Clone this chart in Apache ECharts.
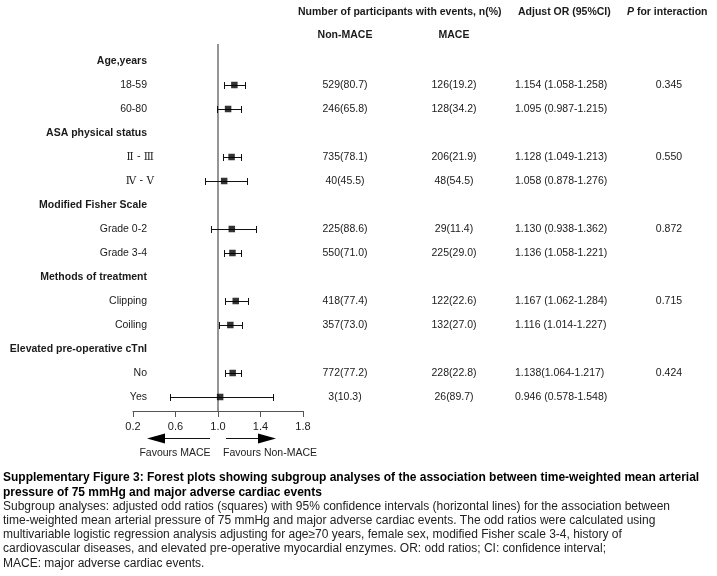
<!DOCTYPE html>
<html><head><meta charset="utf-8">
<script src="https://cdn.jsdelivr.net/npm/echarts@6.0.0/dist/echarts.min.js"></script>
<style>html,body{margin:0;padding:0;background:#fff}#c{width:717px;height:576px}</style>
</head><body><div id="c"></div>
<script>
// ---- data ----
const rowLabels = ['Age,years','18-59','60-80','ASA physical status','Ⅱ - Ⅲ','Ⅳ - Ⅴ','Modified Fisher Scale','Grade 0-2','Grade 3-4','Methods of treatment','Clipping','Coiling','Elevated pre-operative cTnI','No','Yes'];
const isHeader = [1,0,0,1,0,0,1,0,0,1,0,0,1,0,0];
// plotted positions (the "Yes" mark is drawn at ~1.02 in the source figure)
const orValues = [null,1.154,1.095,null,1.128,1.058,null,1.130,1.136,null,1.167,1.116,null,1.138,1.02];
const ciLow    = [null,1.058,0.987,null,1.049,0.878,null,0.938,1.058,null,1.062,1.014,null,1.064,0.55];
const ciHigh   = [null,1.258,1.215,null,1.213,1.276,null,1.362,1.221,null,1.284,1.227,null,1.217,1.52];
const nonMace  = ['','529(80.7)','246(65.8)','','735(78.1)','40(45.5)','','225(88.6)','550(71.0)','','418(77.4)','357(73.0)','','772(77.2)','3(10.3)'];
const mace     = ['','126(19.2)','128(34.2)','','206(21.9)','48(54.5)','','29(11.4)','225(29.0)','','122(22.6)','132(27.0)','','228(22.8)','26(89.7)'];
const orText   = ['','1.154 (1.058-1.258)','1.095 (0.987-1.215)','','1.128 (1.049-1.213)','1.058 (0.878-1.276)','','1.130 (0.938-1.362)','1.136 (1.058-1.221)','','1.167 (1.062-1.284)','1.116 (1.014-1.227)','','1.138(1.064-1.217)','0.946 (0.578-1.548)'];
const pInter   = ['','0.345','','','0.550','','','0.872','','','0.715','','','0.424',''];
const xTickLabels = ['0.2','0.6','1.0','1.4','1.8'];
const xMin = 0.2, xMax = 1.8, xInterval = 0.4;
const refValue = 1.0;

const captionTitle = ['Supplementary Figure 3: Forest plots showing subgroup analyses of the association between time-weighted mean arterial',
  'pressure of 75 mmHg and major adverse cardiac events'];
const captionBody = ['Subgroup analyses: adjusted odd ratios (squares) with 95% confidence intervals (horizontal lines) for the association between',
  'time-weighted mean arterial pressure of 75 mmHg and major adverse cardiac events. The odd ratios were calculated using',
  'multivariable logistic regression analysis adjusting for age≥70 years, female sex, modified Fisher scale 3-4, history of',
  'cardiovascular diseases, and elevated pre-operative myocardial enzymes. OR: odd ratios; CI: confidence interval;',
  'MACE: major adverse cardiac events.'];

// ---- chart ----
const FONT = 'Liberation Sans, Arial, sans-serif';
const TXT = '#1a1a1a';
const chart = echarts.init(document.getElementById('c'), null, {renderer:'canvas'});

const pointData = [], barData = [];
rowLabels.forEach((r,i)=>{
  if (orValues[i] != null) {
    pointData.push([orValues[i], r]);
    barData.push([ciLow[i], ciHigh[i], r]);
  }
});

function colAxis(arr, margin, align, bold){
  return {
    type:'category', data: rowLabels, inverse:true, position:'right', gridIndex:0,
    axisLine:{show:false}, axisTick:{show:false}, splitLine:{show:false},
    axisLabel:{margin, align, fontSize:10.5, fontFamily:FONT, color:TXT, fontWeight: bold?'bold':'normal',
      formatter:(v,i)=>arr[i]}
  };
}

const romanRows = {4:1,5:1};
const hdr = (text, x, y, align, extra) => Object.assign({
  type:'text', x, y, style:{text, fontSize:10.5, fontWeight:'bold', fontFamily:FONT, fill:TXT, align, verticalAlign:'middle'}
}, extra||{});

const graphics = [
  hdr('Number of participants with events, n(%)', 298, 12, 'left'),
  hdr('Adjust OR (95%CI)', 518, 12, 'left'),
  {type:'text', x:627, y:12, style:{rich:{i:{fontStyle:'italic',fontWeight:'bold',fontSize:10.5,fontFamily:FONT,fill:TXT},
     b:{fontWeight:'bold',fontSize:10.5,fontFamily:FONT,fill:TXT}}, text:'{i|P}{b| for interaction}', align:'left', verticalAlign:'middle'}},
  hdr('Non-MACE', 345, 35, 'center'),
  hdr('MACE', 454, 35, 'center'),
  // arrows
  {type:'line', shape:{x1:210, y1:438.5, x2:160, y2:438.5}, style:{stroke:'#111', lineWidth:1}},
  {type:'polygon', shape:{points:[[147,438.5],[165,433.5],[165,443.5]]}, style:{fill:'#000'}},
  {type:'line', shape:{x1:226, y1:438.5, x2:262, y2:438.5}, style:{stroke:'#111', lineWidth:1}},
  {type:'polygon', shape:{points:[[276,438.5],[258,433.5],[258,443.5]]}, style:{fill:'#000'}},
  {type:'text', x:175, y:453, style:{text:'Favours MACE', fontSize:10.5, fontFamily:FONT, fill:'#222', align:'center', verticalAlign:'middle'}},
  {type:'text', x:270, y:453, style:{text:'Favours Non-MACE', fontSize:10.5, fontFamily:FONT, fill:'#222', align:'center', verticalAlign:'middle'}}
];
captionTitle.forEach((t,k)=>graphics.push({type:'text', x:3, y:478+14.2*k,
  style:{text:t, fontSize:12, fontWeight:'bold', fontFamily:FONT, fill:'#000', align:'left', verticalAlign:'middle'}}));
captionBody.forEach((t,k)=>graphics.push({type:'text', x:3, y:506.4+14.2*k,
  style:{text:t, fontSize:12, fontFamily:FONT, fill:'#222', align:'left', verticalAlign:'middle'}}));

chart.setOption({
  animation:false,
  backgroundColor:'#fff',
  grid:{left:133, width:170, top:49, height:360, outerBoundsMode:'none', containLabel:false},
  xAxis:{type:'value', min:xMin, max:xMax, interval:xInterval, offset:2,
    axisLine:{show:true, lineStyle:{color:'#555', width:1}},
    axisTick:{show:true, length:6, lineStyle:{color:'#555'}},
    splitLine:{show:false},
    axisLabel:{margin:10, fontSize:11, fontFamily:FONT, color:TXT,
      formatter:(v)=>{const i=Math.round((v-xMin)/xInterval); return xTickLabels[i]||'';}}
  },
  yAxis:[
    {type:'category', data:rowLabels, inverse:true, position:'left',
      axisLine:{show:false}, axisTick:{show:false}, splitLine:{show:false},
      axisLabel:{margin:-14, fontSize:10.5, fontFamily:FONT, color:TXT,
        formatter:(v,i)=> isHeader[i] ? '{b|'+v+'}' : (romanRows[i] ? '{r|'+v+'}' : '{n|'+v+'}'),
        rich:{b:{fontWeight:'bold',fontSize:10.5,fontFamily:FONT,color:TXT},
              n:{fontSize:10.5,fontFamily:FONT,color:TXT},
              r:{fontSize:10.5,fontFamily:'DejaVu Serif, serif',color:TXT, padding:[0,-7,0,0]}}}},
    colAxis(nonMace, 42, 'center'),
    colAxis(mace, 151, 'center'),
    colAxis(orText, 212, 'left'),
    colAxis(pInter, 366, 'center')
  ],
  series:[
    {type:'custom', name:'ref', data:[[refValue]], encode:{x:0}, silent:true, z:1,
      renderItem:(params, api)=>{
        const cs = params.coordSys;
        const x = Math.round(api.coord([api.value(0), 0])[0]);
        return {type:'line', shape:{x1:x, y1:cs.y-5, x2:x, y2:cs.y+cs.height+2},
          style:{stroke:'#7a7a7a', lineWidth:1.6}};
      }},
    {type:'custom', name:'CI', data:barData, encode:{x:[0,1], y:2}, z:3,
      renderItem:(params, api)=>{
        const yv = api.value(2);
        const lo = api.coord([api.value(0), yv]);
        const hi = api.coord([api.value(1), yv]);
        const y = Math.round(lo[1])+0.5, x1 = Math.round(lo[0])+0.5, x2 = Math.round(hi[0])+0.5;
        const h = 3.5, st = {stroke:'#111', lineWidth:1};
        return {type:'group', children:[
          {type:'line', shape:{x1, y1:y, x2, y2:y}, style:st},
          {type:'line', shape:{x1, y1:y-h, x2:x1, y2:y+h}, style:st},
          {type:'line', shape:{x1:x2, y1:y-h, x2, y2:y+h}, style:st}
        ]};
      }},
    {type:'scatter', name:'OR', data:pointData, symbol:'rect', symbolSize:6.5, z:4,
      itemStyle:{color:'#000'}}
  ],
  graphic: graphics
});
</script>
</body></html>
